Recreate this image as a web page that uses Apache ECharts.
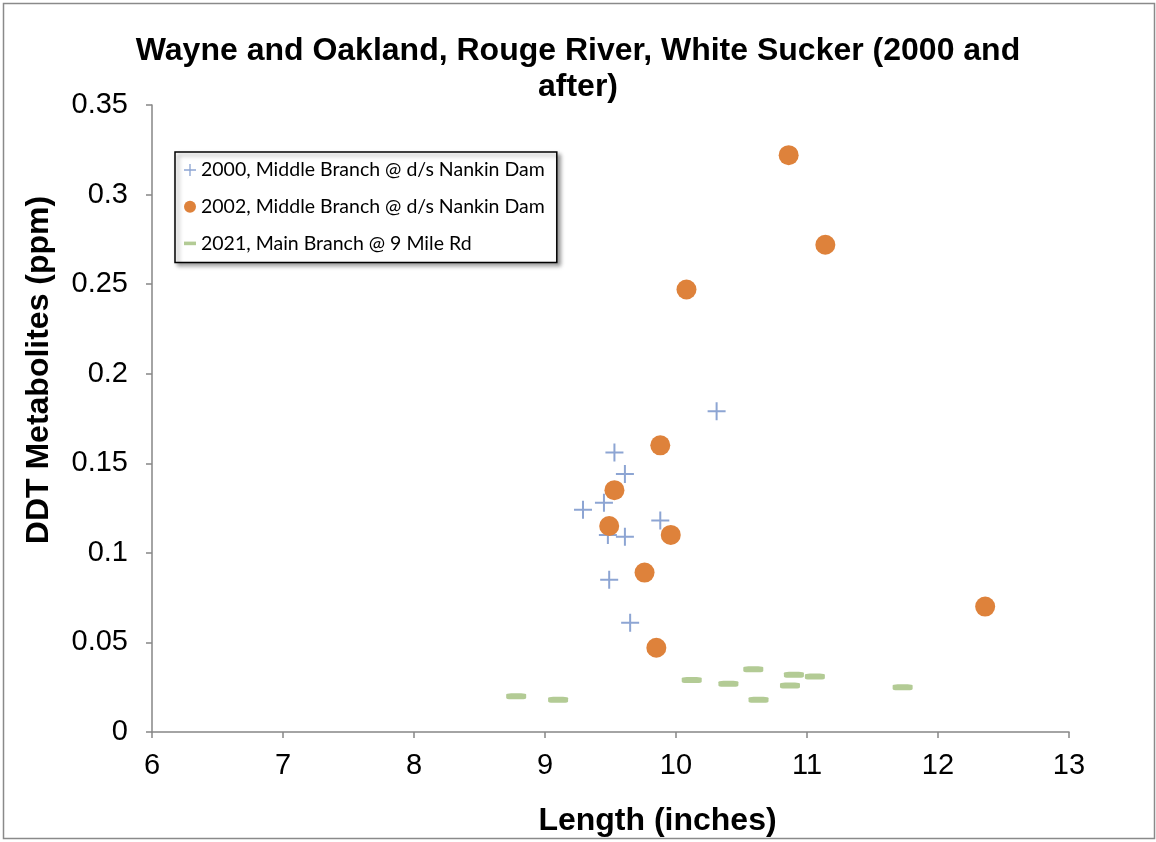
<!DOCTYPE html>
<html>
<head>
<meta charset="utf-8">
<script src="https://cdn.jsdelivr.net/npm/echarts@6/dist/echarts.min.js"></script>
<style>html,body{margin:0;padding:0;background:#fff}#c{width:1156px;height:842px}</style>
</head>
<body>
<div id="c"></div>
<script>
const titleText = "Wayne and Oakland, Rouge River, White Sucker (2000 and\nafter)";
const xAxisName = "Length (inches)";
const yAxisName = "DDT Metabolites (ppm)";
const seriesNames = ["2000, Middle Branch @ d/s Nankin Dam", "2002, Middle Branch @ d/s Nankin Dam", "2021, Main Branch @ 9 Mile Rd"];

const s2000 = [[10.31,0.179],[9.53,0.156],[9.61,0.144],[9.29,0.124],[9.45,0.128],[9.88,0.118],[9.48,0.110],[9.61,0.109],[9.49,0.085],[9.65,0.061]];
const s2002 = [[10.86,0.322],[11.14,0.272],[10.08,0.247],[9.88,0.160],[9.53,0.135],[9.49,0.115],[9.96,0.110],[9.76,0.089],[9.85,0.047],[12.36,0.070]];
const s2021 = [[8.78,0.020],[9.10,0.018],[10.12,0.029],[10.40,0.027],[10.59,0.035],[10.63,0.018],[10.87,0.026],[10.90,0.032],[11.06,0.031],[11.73,0.025]];

const PLUS = 'path://M8,0 H10 V8 H18 V10 H10 V18 H8 V10 H0 V8 H8 Z';
const DASH = 'path://M0,0 H10 V3 H0 Z';

const chart = echarts.init(document.getElementById('c'), null, {renderer:'canvas'});
chart.setOption({
  backgroundColor:'#fff',
  animation:false,
  title:{
    text:titleText, left:'center', top:28,
    textStyle:{fontFamily:'Liberation Sans, Arial', fontWeight:'bold', fontSize:32, lineHeight:36, color:'#000'}
  },
  graphic:[{type:'rect', shape:{x:3.5,y:3.5,width:1151,height:835}, style:{fill:'none', stroke:'#8a8a8a', lineWidth:1.5}, silent:true}],
  grid:{left:152, top:105, right:87, bottom:109},
  xAxis:{
    type:'value', min:6, max:13, interval:1,
    name:xAxisName, nameLocation:'middle', nameGap:73,
    nameTextStyle:{fontFamily:'Liberation Sans, Arial', fontWeight:'bold', fontSize:32, color:'#000', padding:[0,0,0,94]},
    axisLine:{show:true, lineStyle:{color:'#868686', width:1.5}},
    axisTick:{show:true, inside:false, length:6, lineStyle:{color:'#868686', width:1.5}},
    axisLabel:{fontFamily:'Liberation Sans, Arial', fontSize:29, color:'#000', margin:19},
    splitLine:{show:false}
  },
  yAxis:{
    type:'value', min:0, max:0.35, interval:0.05,
    name:yAxisName, nameLocation:'middle', nameGap:97,
    nameTextStyle:{fontFamily:'Liberation Sans, Arial', fontWeight:'bold', fontSize:32, color:'#000', padding:[0,0,0,97]},
    axisLine:{show:true, lineStyle:{color:'#868686', width:1.5}},
    axisTick:{show:true, inside:false, length:6, lineStyle:{color:'#868686', width:1.5}},
    axisLabel:{fontFamily:'Liberation Sans, Arial', fontSize:29, color:'#000', margin:24},
    splitLine:{show:false}
  },
  legend:{
    orient:'vertical', left:175, top:152,
    padding:[7,12,8,9], itemGap:14.7, itemWidth:12, itemHeight:12,
    backgroundColor:'#fff', borderColor:'#000', borderWidth:1.5,
    shadowColor:'rgba(0,0,0,0.4)', shadowBlur:4, shadowOffsetX:3, shadowOffsetY:3,
    textStyle:{fontFamily:'Lato, Open Sans, sans-serif', fontSize:19.5, lineHeight:22, color:'#000'},
    data:[{name:seriesNames[0], icon:PLUS},{name:seriesNames[1], icon:'circle'},{name:seriesNames[2], icon:DASH}]
  },
  series:[
    {name:seriesNames[0], type:'scatter', data:s2000, symbol:PLUS, symbolSize:18, symbolKeepAspect:true,
     itemStyle:{color:'#8DA5D3', opacity:1}, z:3},
    {name:seriesNames[1], type:'scatter', data:s2002, symbol:'circle', symbolSize:20,
     itemStyle:{color:'#DE823B', opacity:1}, z:4},
    {name:seriesNames[2], type:'scatter', data:s2021, symbol:'roundRect', symbolSize:[20,6],
     itemStyle:{color:'#B3CB95', opacity:1}, z:2}
  ]
});
</script>
</body>
</html>
